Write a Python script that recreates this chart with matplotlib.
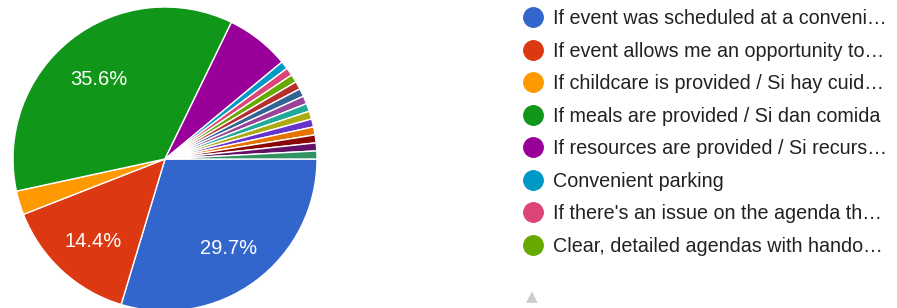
import matplotlib.pyplot as plt
from matplotlib.lines import Line2D
from matplotlib.transforms import ScaledTranslation

plt.rcParams['font.family'] = ['Liberation Sans', 'DejaVu Sans']

# responses per option (118 total); first 8 are shown in the legend page
labels = [
    "If event was scheduled at a conveni…",
    "If event allows me an opportunity to…",
    "If childcare is provided / Si hay cuid…",
    "If meals are provided / Si dan comida",
    "If resources are provided / Si recurs…",
    "Convenient parking",
    "If there's an issue on the agenda th…",
    "Clear, detailed agendas with hando…",
]
counts = [35, 17, 3, 42, 8, 1, 1, 1, 1, 1, 1, 1, 1, 1, 1, 1, 1, 1]
colors = [
    "#3366cc", "#dc3912", "#ff9900", "#109618", "#990099", "#0099c6",
    "#dd4477", "#66aa00", "#b82e2e", "#316395", "#994499", "#22aa99",
    "#aaaa11", "#6633cc", "#e67300", "#8b0707", "#651067", "#329262",
]

W, H = 897, 308
fig = plt.figure(figsize=(W / 100, H / 100), dpi=100)

# pie centre ~ (165, 159) px, radius ~ 152 px
cx, cy, r = 165, 159, 152
ax = fig.add_axes([(cx - r) / W, (H - cy - r) / H, 2 * r / W, 2 * r / H])


def pct(p):
    return f"{p:.1f}%" if p > 10 else ""


wedges, _, autotexts = ax.pie(
    counts, colors=colors, startangle=0, counterclock=False,
    radius=1.0, autopct=pct, pctdistance=0.7,
    wedgeprops=dict(edgecolor="white", linewidth=1.0),
    textprops=dict(color="white", fontsize=14.5),
)
# labels sit a few pixels lower in the original
shift = ScaledTranslation(0, -4 / 100, fig.dpi_scale_trans)
for t in autotexts:
    t.set_transform(t.get_transform() + shift)

ax.set_xlim(-1.0, 1.0)
ax.set_ylim(-1.0, 1.0)
ax.set_aspect("equal")
ax.axis("off")

handles = [
    Line2D([], [], linestyle="none", marker="o", markersize=14,
           markerfacecolor=c, markeredgecolor=c)
    for c in colors[:len(labels)]
]
fig.legend(
    handles, labels, loc="upper left",
    bbox_to_anchor=(524 / W, 1 - 9 / H),
    frameon=False, fontsize=14.2, handlelength=0.9, handletextpad=0.55,
    labelspacing=0.685, borderpad=0, borderaxespad=0, labelcolor="#222222",
)

# pagination arrow, partly cut off at the bottom
fig.text(532 / W, 1 - 289 / H, "▲", color="#cccccc", fontsize=11,
         ha="center", va="top", family="DejaVu Sans")

plt.savefig("out.png", dpi=100)
